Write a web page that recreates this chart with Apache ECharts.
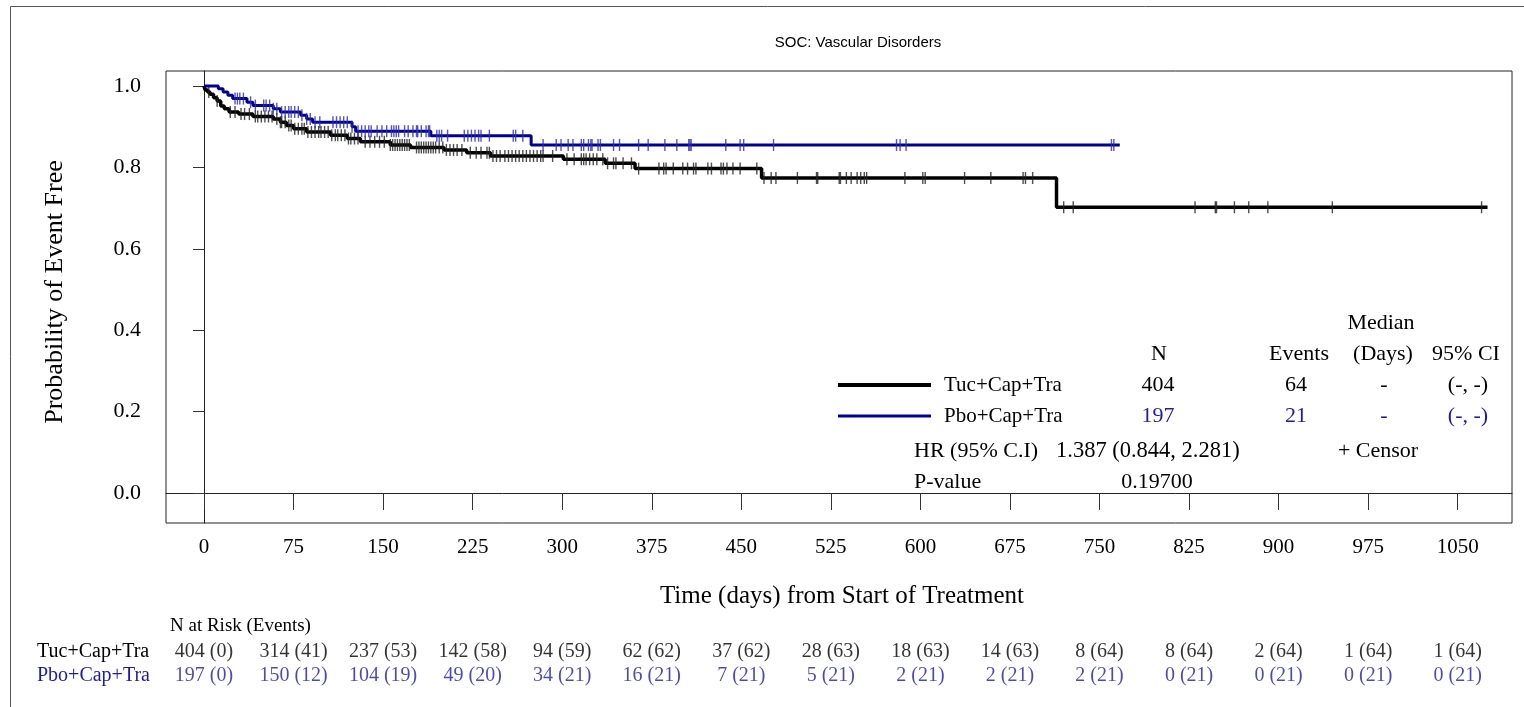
<!DOCTYPE html>
<html>
<head>
<meta charset="utf-8">
<script src="https://cdn.jsdelivr.net/npm/echarts@6/dist/echarts.min.js"></script>
<style>html,body{margin:0;padding:0;background:#fff}#c{width:1524px;height:707px}</style>
</head>
<body>
<div id="c"></div>
<script>
// ---------- data ----------
const chartTitle = 'SOC: Vascular Disorders';
const armNames = ['Tuc+Cap+Tra', 'Pbo+Cap+Tra'];
const xTicks = [0, 75, 150, 225, 300, 375, 450, 525, 600, 675, 750, 825, 900, 975, 1050];
const yTicks = [0, 0.2, 0.4, 0.6, 0.8, 1.0];

// Kaplan-Meier step points [day, survival]
const tucSteps = [[0,1.0],[1,0.99],[3,0.985],[5,0.98],[8,0.971],[11,0.963],[14,0.951],[17,0.944],[21,0.936],[29,0.931],[41,0.925],[58,0.919],[64,0.911],[69,0.903],[75,0.895],[86,0.887],[106,0.879],[120,0.871],[131,0.863],[156,0.855],[173,0.849],[201,0.843],[220,0.836],[240,0.828],[301,0.820],[336,0.810],[361,0.797],[467,0.774],[714,0.702],[1075,0.702]];
const pboSteps = [[0,1.0],[12,0.993],[16,0.985],[20,0.977],[24,0.969],[36,0.960],[41,0.952],[58,0.944],[64,0.936],[81,0.928],[86,0.919],[91,0.911],[124,0.900],[127,0.889],[190,0.878],[274,0.855],[767,0.855]];

// censor times (days)
const tucCensor = [4,11,22,26,31,34,38,43,45,48,51,54,57,61,64,65,68,71,73,76,79,82,84,87,90,93,96,98,101,104,107,110,112,115,118,121,123,126,129,135,139,143,147,151,156,158,160,162,164,166,168,170,172,178,180,182,184,186,188,190,192,194,197,200,203,206,209,212,216,223,228,232,237,239,242,245,248,252,255,258,261,264,267,270,273,276,279,282,284,292,304,310,316,318,320,323,326,329,334,338,343,345,351,358,364,381,385,387,393,401,405,410,412,422,425,433,435,438,443,449,463,469,475,479,497,513,514,532,533,538,542,547,550,553,555,587,602,604,637,659,686,688,694,720,728,830,847,848,863,875,891,945,1070];
const pboCensor = [26,28,30,33,39,43,50,52,55,58,61,65,68,71,73,76,79,82,86,89,93,97,108,111,114,117,120,124,129,132,135,138,140,145,149,153,157,159,161,163,168,171,175,178,179,182,186,188,189,195,197,199,204,218,221,224,227,230,232,239,259,261,267,284,295,299,305,309,316,318,322,324,325,330,332,343,348,364,372,386,396,406,407,408,437,449,452,477,580,583,588,760,762];

// number at risk (events) per tick
const riskTuc = ['404 (0)','314 (41)','237 (53)','142 (58)','94 (59)','62 (62)','37 (62)','28 (63)','18 (63)','14 (63)','8 (64)','8 (64)','2 (64)','1 (64)','1 (64)'];
const riskPbo = ['197 (0)','150 (12)','104 (19)','49 (20)','34 (21)','16 (21)','7 (21)','5 (21)','2 (21)','2 (21)','2 (21)','0 (21)','0 (21)','0 (21)','0 (21)'];

// summary statistics
const statN = ['404', '197'];
const statEvents = ['64', '21'];
const statMedian = ['-', '-'];
const statCI = ['(-, -)', '(-, -)'];
const hrText = '1.387 (0.844, 2.281)';
const pValueText = '0.19700';

// ---------- styles ----------
const BLACK = '#000000';
const BLUE = '#000096';
const BLUE_TXT = '#1c1ca6';
const SERIF = '"Liberation Serif", "Times New Roman", serif';
const SANS = '"Liberation Sans", Arial, sans-serif';

function survAt(steps, t) {
  let v = steps[0][1];
  for (const s of steps) { if (s[0] <= t) v = s[1]; else break; }
  return v;
}
const tucCensorPts = tucCensor.map(t => [t, survAt(tucSteps, t)]);
const pboCensorPts = pboCensor.map(t => [t, survAt(pboSteps, t)]);

const chart = echarts.init(document.getElementById('c'), null, {renderer: 'canvas'});

const GL = 166, GT = 71, GR = 1512, GB = 523;
const X0PX = 204, PX_PER_DAY = 1.194;
const xMin = (GL - X0PX) / PX_PER_DAY;
const xMax = (GR - X0PX) / PX_PER_DAY;
const Y1PX = 86, Y0PX = 493;
const pxPerUnit = Y0PX - Y1PX;
const yMax = 1 + (Y1PX - GT) / pxPerUnit;
const yMin = -(GB - Y0PX) / pxPerUnit;

function txt(text, x, y, opt) {
  opt = opt || {};
  return {
    type: 'text', silent: true,
    style: {
      text: text, x: x, y: y,
      font: (opt.size || 22) + 'px ' + (opt.family || SERIF),
      fill: opt.color || BLACK,
      textAlign: opt.align || 'left',
      textVerticalAlign: 'middle'
    }
  };
}

const graphics = [
  {type: 'polyline', silent: true, shape: {points: [[10.5, 707], [10.5, 6.5], [1524, 6.5]]}, style: {stroke: '#555', lineWidth: 1, fill: null}},
  txt(chartTitle, 858, 43, {family: SANS, size: 15, align: 'center'}),
  {type: 'text', silent: true, x: 55, y: 292, rotation: Math.PI / 2,
   style: {text: 'Probability of Event Free', font: '26px ' + SERIF, fill: BLACK, textAlign: 'center', textVerticalAlign: 'middle'}},
  txt('Time (days) from Start of Treatment', 842, 596, {size: 25, align: 'center'}),
  txt('N at Risk (Events)', 170, 626, {size: 19}),
  // legend / statistics block
  txt('Median', 1381, 323, {align: 'center'}),
  txt('N', 1159, 354, {align: 'center'}),
  txt('Events', 1299, 354, {align: 'center'}),
  txt('(Days)', 1383, 354, {align: 'center'}),
  txt('95% CI', 1466, 354, {align: 'center'}),
  {type: 'line', silent: true, shape: {x1: 838, y1: 385, x2: 931, y2: 385}, style: {stroke: BLACK, lineWidth: 4}},
  {type: 'line', silent: true, shape: {x1: 838, y1: 416, x2: 931, y2: 416}, style: {stroke: BLUE, lineWidth: 3}},
  txt('HR (95% C.I)', 914, 451),
  txt(hrText, 1056, 451, {size: 22.5}),
  txt('+ Censor', 1378, 451, {align: 'center'}),
  txt('P-value', 914, 482),
  txt(pValueText, 1157, 482, {align: 'center'})
];
[0, 1].forEach(i => {
  const y = i === 0 ? 385 : 416;
  const c = i === 0 ? BLACK : BLUE_TXT;
  graphics.push(txt(armNames[i], 944, y, {size: 21}));
  graphics.push(txt(statN[i], 1158, y, {align: 'center', color: c}));
  graphics.push(txt(statEvents[i], 1296, y, {align: 'center', color: c}));
  graphics.push(txt(statMedian[i], 1384, y, {align: 'center', color: c}));
  graphics.push(txt(statCI[i], 1468, y, {align: 'center', color: c}));
});

const option = {
  backgroundColor: '#ffffff',
  animation: false,
  grid: [
    {left: GL, top: GT, width: GR - GL, height: GB - GT, show: true, borderColor: '#222', borderWidth: 1, backgroundColor: 'transparent'},
    {left: GL, top: 640, width: GR - GL, height: 48, show: false}
  ],
  xAxis: [
    {type: 'value', gridIndex: 0, min: xMin, max: xMax,
     axisLine: {show: true, lineStyle: {color: '#222', width: 1}},
     axisTick: {show: true, inside: false, length: 17, customValues: xTicks, lineStyle: {color: '#333'}},
     axisLabel: {show: true, customValues: xTicks, margin: 14, fontFamily: SERIF, fontSize: 21, color: '#000',
                 formatter: v => String(Math.round(v))},
     splitLine: {show: false}},
    {type: 'value', gridIndex: 1, min: xMin, max: xMax, show: false}
  ],
  yAxis: [
    {type: 'value', gridIndex: 0, min: yMin, max: yMax,
     axisLine: {show: true, lineStyle: {color: '#222', width: 1}},
     axisTick: {show: true, inside: false, length: 11, customValues: yTicks, lineStyle: {color: '#333'}},
     axisLabel: {show: true, customValues: yTicks, margin: 25, fontFamily: SERIF, fontSize: 22, color: '#000',
                 formatter: v => v.toFixed(1)},
     splitLine: {show: false}},
    {type: 'category', gridIndex: 1, data: armNames, inverse: true,
     axisLine: {show: false}, axisTick: {show: false}, splitLine: {show: false},
     axisLabel: {show: true, interval: 0, hideOverlap: false, align: 'left', margin: GL - 37, fontFamily: SERIF, fontSize: 20,
                 color: (v, i) => (v === armNames[1] ? BLUE_TXT : BLACK)}}
  ],
  series: [
    {name: armNames[0], type: 'line', step: 'end', xAxisIndex: 0, yAxisIndex: 0, data: tucSteps,
     showSymbol: false, lineStyle: {color: BLACK, width: 3.5}, z: 3},
    {name: armNames[1], type: 'line', step: 'end', xAxisIndex: 0, yAxisIndex: 0, data: pboSteps,
     showSymbol: false, lineStyle: {color: BLUE, width: 3}, z: 4},
    {name: armNames[0] + ' censor', type: 'scatter', xAxisIndex: 0, yAxisIndex: 0, data: tucCensorPts,
     symbol: 'rect', symbolSize: [1.4, 12], itemStyle: {color: '#222'}, z: 5},
    {name: armNames[1] + ' censor', type: 'scatter', xAxisIndex: 0, yAxisIndex: 0, data: pboCensorPts,
     symbol: 'rect', symbolSize: [1.4, 12], itemStyle: {color: '#2a2ab0'}, z: 6},
    {name: 'risk ' + armNames[0], type: 'scatter', xAxisIndex: 1, yAxisIndex: 1,
     data: xTicks.map((t, i) => [t, armNames[0], riskTuc[i]]), symbolSize: 0.1, itemStyle: {color: 'transparent'},
     label: {show: true, position: 'inside', formatter: p => p.data[2], fontFamily: SERIF, fontSize: 20, color: BLACK}},
    {name: 'risk ' + armNames[1], type: 'scatter', xAxisIndex: 1, yAxisIndex: 1,
     data: xTicks.map((t, i) => [t, armNames[1], riskPbo[i]]), symbolSize: 0.1, itemStyle: {color: 'transparent'},
     label: {show: true, position: 'inside', formatter: p => p.data[2], fontFamily: SERIF, fontSize: 20, color: BLUE_TXT}}
  ],
  graphic: graphics
};
chart.setOption(option);
</script>
</body>
</html>
